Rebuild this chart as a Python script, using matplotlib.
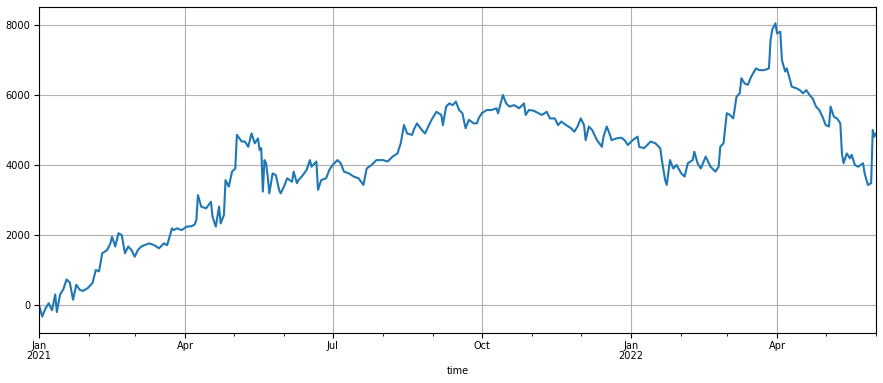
import matplotlib
matplotlib.use("Agg")
import matplotlib.pyplot as plt
import matplotlib.dates as mdates
import pandas as pd

dates = [
    "2021-01-01", "2021-01-03", "2021-01-05", "2021-01-07", "2021-01-09", "2021-01-11", "2021-01-12",
    "2021-01-14", "2021-01-16", "2021-01-18", "2021-01-20", "2021-01-22", "2021-01-24", "2021-01-26",
    "2021-01-28", "2021-01-31", "2021-02-03", "2021-02-05", "2021-02-07", "2021-02-09", "2021-02-12",
    "2021-02-14", "2021-02-15", "2021-02-17", "2021-02-19", "2021-02-21", "2021-02-23", "2021-02-25",
    "2021-02-27", "2021-03-01", "2021-03-03", "2021-03-05", "2021-03-07", "2021-03-10", "2021-03-13",
    "2021-03-16", "2021-03-19", "2021-03-21", "2021-03-24", "2021-03-25", "2021-03-27", "2021-03-30",
    "2021-04-02", "2021-04-05", "2021-04-07", "2021-04-08", "2021-04-09", "2021-04-11", "2021-04-14",
    "2021-04-17", "2021-04-18", "2021-04-20", "2021-04-22", "2021-04-23", "2021-04-25", "2021-04-26",
    "2021-04-28", "2021-04-30", "2021-05-02", "2021-05-03", "2021-05-06", "2021-05-08", "2021-05-10",
    "2021-05-12", "2021-05-14", "2021-05-16", "2021-05-17", "2021-05-18", "2021-05-19", "2021-05-20",
    "2021-05-21", "2021-05-22", "2021-05-23", "2021-05-25", "2021-05-27", "2021-05-29", "2021-05-30",
    "2021-06-01", "2021-06-03", "2021-06-06", "2021-06-07", "2021-06-09", "2021-06-10", "2021-06-12",
    "2021-06-15", "2021-06-17", "2021-06-18", "2021-06-21", "2021-06-22", "2021-06-24", "2021-06-27",
    "2021-06-29", "2021-07-01", "2021-07-04", "2021-07-06", "2021-07-08", "2021-07-11", "2021-07-14",
    "2021-07-17", "2021-07-20", "2021-07-22", "2021-07-25", "2021-07-28", "2021-08-01", "2021-08-04",
    "2021-08-07", "2021-08-10", "2021-08-12", "2021-08-14", "2021-08-16", "2021-08-19", "2021-08-20",
    "2021-08-22", "2021-08-25", "2021-08-27", "2021-08-29", "2021-08-31", "2021-09-03", "2021-09-06",
    "2021-09-07", "2021-09-09", "2021-09-11", "2021-09-13", "2021-09-15", "2021-09-17", "2021-09-19",
    "2021-09-21", "2021-09-23", "2021-09-26", "2021-09-28", "2021-09-29", "2021-10-01", "2021-10-04",
    "2021-10-07", "2021-10-10", "2021-10-11", "2021-10-14", "2021-10-16", "2021-10-18", "2021-10-21",
    "2021-10-24", "2021-10-27", "2021-10-28", "2021-10-30", "2021-11-02", "2021-11-07", "2021-11-10",
    "2021-11-12", "2021-11-15", "2021-11-17", "2021-11-19", "2021-11-22", "2021-11-25", "2021-11-27",
    "2021-11-29", "2021-12-01", "2021-12-03", "2021-12-04", "2021-12-06", "2021-12-08", "2021-12-11",
    "2021-12-14", "2021-12-15", "2021-12-17", "2021-12-19", "2021-12-20", "2021-12-23", "2021-12-26",
    "2021-12-28", "2021-12-30", "2022-01-02", "2022-01-05", "2022-01-06", "2022-01-09", "2022-01-11",
    "2022-01-13", "2022-01-16", "2022-01-19", "2022-01-20", "2022-01-22", "2022-01-23", "2022-01-25",
    "2022-01-27", "2022-01-29", "2022-02-01", "2022-02-03", "2022-02-05", "2022-02-08", "2022-02-09",
    "2022-02-11", "2022-02-13", "2022-02-16", "2022-02-18", "2022-02-19", "2022-02-22", "2022-02-24",
    "2022-02-25", "2022-02-27", "2022-03-01", "2022-03-03", "2022-03-05", "2022-03-07", "2022-03-09",
    "2022-03-10", "2022-03-12", "2022-03-14", "2022-03-16", "2022-03-19", "2022-03-21", "2022-03-24",
    "2022-03-27", "2022-03-28", "2022-03-29", "2022-03-31", "2022-04-01", "2022-04-03", "2022-04-04",
    "2022-04-06", "2022-04-07", "2022-04-09", "2022-04-10", "2022-04-13", "2022-04-15", "2022-04-17",
    "2022-04-19", "2022-04-21", "2022-04-23", "2022-04-25", "2022-04-27", "2022-04-29", "2022-05-01",
    "2022-05-03", "2022-05-04", "2022-05-06", "2022-05-08", "2022-05-10", "2022-05-11", "2022-05-12",
    "2022-05-14", "2022-05-16", "2022-05-17", "2022-05-19", "2022-05-21", "2022-05-24", "2022-05-25",
    "2022-05-27", "2022-05-29", "2022-05-30", "2022-05-31", "2022-06-01",
]

values = [
    0, -330, -100, 50, -150, 300, -200,
    300, 450, 730, 640, 150, 580, 440,
    400, 480, 630, 1000, 960, 1480, 1570,
    1760, 1950, 1670, 2050, 2000, 1480, 1670,
    1570, 1380, 1570, 1670, 1710, 1760, 1710,
    1620, 1760, 1710, 2190, 2140, 2190, 2140,
    2240, 2250, 2300, 2430, 3140, 2810, 2760,
    2950, 2520, 2240, 2810, 2330, 2570, 3570,
    3380, 3810, 3900, 4860, 4670, 4670, 4520,
    4900, 4620, 4760, 4430, 4480, 3240, 4140,
    4050, 3670, 3190, 3760, 3710, 3290, 3190,
    3380, 3620, 3520, 3810, 3480, 3570, 3670,
    3860, 4140, 3950, 4100, 3290, 3570, 3620,
    3860, 4000, 4140, 4050, 3810, 3760, 3670,
    3620, 3430, 3900, 4000, 4140, 4140, 4100,
    4240, 4330, 4620, 5140, 4900, 4860, 5000,
    5190, 5000, 4900, 5100, 5290, 5520, 5430,
    5140, 5670, 5760, 5710, 5810, 5570, 5480,
    5050, 5290, 5190, 5190, 5330, 5480, 5570,
    5570, 5620, 5480, 6000, 5760, 5670, 5710,
    5620, 5760, 5430, 5570, 5550, 5430, 5520,
    5330, 5330, 5140, 5240, 5140, 5050, 4950,
    5100, 5330, 5140, 4710, 5100, 5000, 4710,
    4520, 4810, 5100, 4860, 4710, 4760, 4780,
    4710, 4570, 4710, 4810, 4520, 4480, 4570,
    4670, 4620, 4480, 4140, 3570, 3430, 4140,
    3900, 4000, 3760, 3670, 4050, 4140, 4380,
    4050, 3900, 4240, 4050, 3950, 3810, 3950,
    4520, 4620, 5480, 5430, 5330, 5950, 6050,
    6480, 6330, 6290, 6520, 6760, 6710, 6710,
    6760, 7570, 7860, 8050, 7760, 7810, 7000,
    6670, 6760, 6430, 6240, 6190, 6140, 6050,
    6140, 6000, 5900, 5670, 5570, 5380, 5140,
    5100, 5670, 5380, 5330, 5190, 4330, 4050,
    4330, 4190, 4290, 4000, 3950, 4050, 3760,
    3430, 3480, 5000, 4810, 4900,
]

major_labels = ["Jan\n2021", "Apr", "Jul", "Oct", "Jan\n2022", "Apr"]
major_ticks = ["2021-01-01", "2021-04-01", "2021-07-01", "2021-10-01", "2022-01-01", "2022-04-01"]

plt.rcParams["font.family"] = ["DejaVu Sans"]
plt.rcParams["font.stretch"] = "condensed"
plt.rcParams["font.size"] = 7.8

s = pd.Series(values, index=pd.to_datetime(dates))

fig = plt.figure(figsize=(8.83, 3.83), dpi=100)
ax = fig.add_axes([39 / 883, 1 - 333 / 383, (876 - 39) / 883, (333 - 7) / 383])
ax.plot(s.index, s.values, color="#1f77b4", linewidth=1.5)

ax.set_xlim(s.index[0], s.index[-1])
ax.set_ylim(-800, 8514)
ax.set_yticks([0, 2000, 4000, 6000, 8000])

ax.set_xticks(pd.to_datetime(major_ticks))
ax.set_xticklabels(major_labels)
ax.xaxis.set_minor_locator(mdates.MonthLocator())
ax.tick_params(axis="both", which="major", length=3.5, pad=2.5)
ax.tick_params(axis="x", which="minor", length=2)
for lbl in ax.get_xticklabels():
    lbl.set_horizontalalignment("center")
    lbl.set_linespacing(1.0)

ax.grid(True, which="major", color="#b0b0b0", linewidth=0.8)
ax.set_xlabel("time", labelpad=3)

fig.savefig("out.png", dpi=100)
